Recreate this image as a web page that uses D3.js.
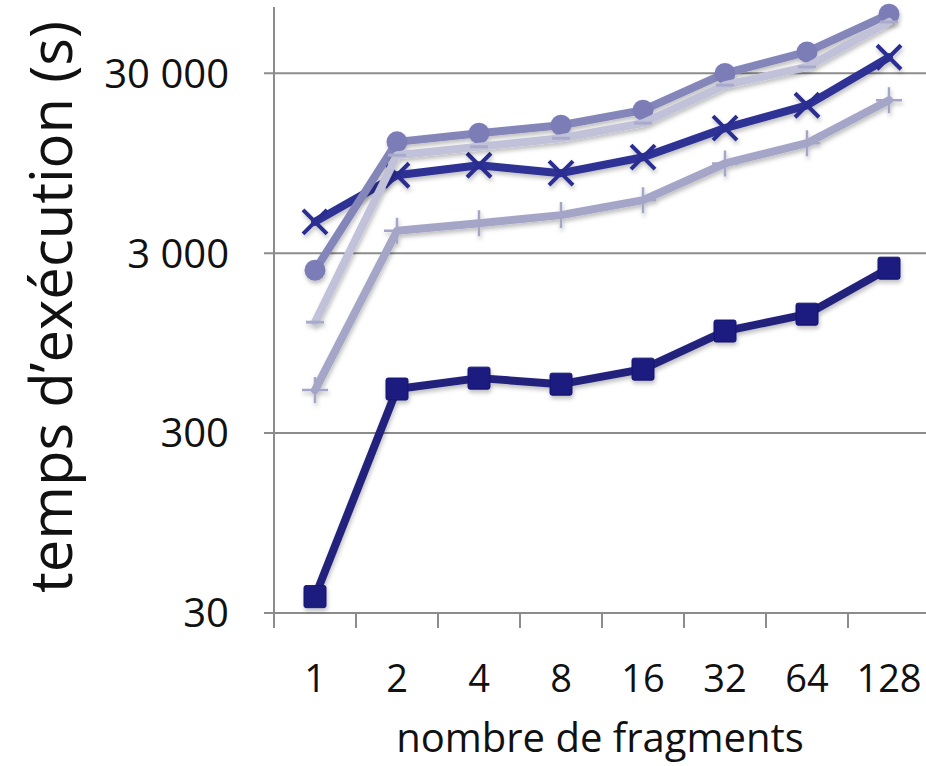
<!DOCTYPE html>
<html>
<head>
<meta charset="utf-8">
<script src="https://cdn.jsdelivr.net/npm/d3@7"></script>
<style>
  body { margin: 0; background: #fff; }
  text { font-family: "Open Sans", sans-serif; fill: #111; }
</style>
</head>
<body>
<div id="chart"></div>
<script>
const canvas = { w: 926, h: 766 };

const fragments = ["1", "2", "4", "8", "16", "32", "64", "128"];
const yTicks = [30, 300, 3000, 30000];

const squareSeries = [37, 527, 606, 561, 680, 1107, 1374, 2475];
const crossSeries = [4480, 8130, 9240, 8350, 10240, 14860, 19900, 36800];
const circleSeries = [2410, 12460, 13920, 15420, 18700, 29900, 39400, 63800];
const dashSeries = [1240, 10500, 11700, 13050, 15840, 25740, 32500, 57800];
const plusSeries = [520, 3990, 4400, 4880, 5910, 9450, 12250, 21240];

const series = [
  { name: "square", values: squareSeries, line: "#23237c", marker: "square", fill: "#1b1b80" },
  { name: "cross", values: crossSeries, line: "#2f3194", marker: "cross", fill: "#2b2d91" },
  { name: "plus", values: plusSeries, line: "#a4a5c7", marker: "plus", fill: "#a4a5c7" },
  { name: "circle", values: circleSeries, line: "#8486b9", marker: "circle", fill: "#7b7db7" },
  { name: "dash", values: dashSeries, line: "#c1c2da", marker: "dash", fill: "#a9aacb" }
];

const plot = { left: 274, right: 930, top: 7, bottom: 613 };

const x = d3.scaleBand().domain(fragments).range([plot.left, plot.right]);
const y = d3.scaleLog().domain([30, 70000]).range([plot.bottom, plot.top]);

const fr = d3.formatLocale({ decimal: ",", thousands: "\u00a0", grouping: [3], currency: ["", ""] });
const fmt = fr.format(",d");

const svg = d3.select("#chart")
  .append("svg")
  .attr("width", canvas.w)
  .attr("height", canvas.h);

const defs = svg.append("defs");
defs.append("filter")
  .attr("id", "shadow")
  .attr("x", "-20%").attr("y", "-20%").attr("width", "140%").attr("height", "140%")
  .append("feDropShadow")
  .attr("dx", 1).attr("dy", 3).attr("stdDeviation", 2)
  .attr("flood-color", "#000").attr("flood-opacity", 0.25);

// gridlines
svg.append("g")
  .selectAll("line")
  .data(yTicks)
  .enter()
  .append("line")
  .attr("x1", plot.left - 10)
  .attr("x2", plot.right)
  .attr("y1", d => y(d))
  .attr("y2", d => y(d))
  .attr("stroke", "#8c8c8c")
  .attr("stroke-width", 2);

// y axis line
svg.append("line")
  .attr("x1", plot.left).attr("x2", plot.left)
  .attr("y1", plot.top).attr("y2", plot.bottom + 15)
  .attr("stroke", "#8c8c8c")
  .attr("stroke-width", 2);

// x ticks between categories
svg.append("g")
  .selectAll("line")
  .data(fragments.slice(1))
  .enter()
  .append("line")
  .attr("x1", d => x(d)).attr("x2", d => x(d))
  .attr("y1", plot.bottom).attr("y2", plot.bottom + 15)
  .attr("stroke", "#8c8c8c")
  .attr("stroke-width", 2);

// y tick labels
svg.append("g")
  .selectAll("text")
  .data(yTicks)
  .enter()
  .append("text")
  .attr("x", 229)
  .attr("y", d => y(d))
  .attr("dy", "0.36em")
  .attr("text-anchor", "end")
  .attr("font-size", 40)
  .text(d => fmt(d));

// x tick labels
svg.append("g")
  .selectAll("text")
  .data(fragments)
  .enter()
  .append("text")
  .attr("x", d => x(d) + x.bandwidth() / 2)
  .attr("y", 692)
  .attr("text-anchor", "middle")
  .attr("font-size", 38)
  .text(d => d);

svg.append("text")
  .attr("x", 600)
  .attr("y", 752)
  .attr("text-anchor", "middle")
  .attr("font-size", 40)
  .text("nombre de fragments");

svg.append("text")
  .attr("transform", "translate(72,307) rotate(-90)")
  .attr("text-anchor", "middle")
  .attr("font-size", 58)
  .text("temps d\u2019exécution (s)");

const line = d3.line()
  .x((d, i) => x(fragments[i]) + x.bandwidth() / 2)
  .y(d => y(d));

const layers = svg.append("g")
  .selectAll("g")
  .data(series)
  .enter()
  .append("g")
  .attr("filter", "url(#shadow)");

layers.append("path")
  .attr("d", d => line(d.values))
  .attr("fill", "none")
  .attr("stroke", d => d.line)
  .attr("stroke-width", 8)
  .attr("stroke-linejoin", "round")
  .attr("stroke-linecap", "round");

layers.each(function (s) {
  const g = d3.select(this);
  const pts = g.selectAll(".pt")
    .data(s.values)
    .enter()
    .append("g")
    .attr("class", "pt")
    .attr("transform", (d, i) => `translate(${x(fragments[i]) + x.bandwidth() / 2},${y(d)})`);

  if (s.marker === "square") {
    pts.append("rect")
      .attr("x", -11).attr("y", -11)
      .attr("width", 22).attr("height", 22)
      .attr("rx", 2)
      .attr("fill", s.fill)
      .attr("stroke", "#161670")
      .attr("stroke-width", 1);
  } else if (s.marker === "circle") {
    pts.append("circle")
      .attr("r", 10.5)
      .attr("fill", s.fill);
  } else if (s.marker === "cross") {
    pts.append("path")
      .attr("d", "M-12,-12L12,12M-12,12L12,-12")
      .attr("stroke", s.fill)
      .attr("stroke-width", 4)
      .attr("fill", "none");
  } else if (s.marker === "plus") {
    pts.append("path")
      .attr("d", "M-13,0L13,0M0,-13L0,13")
      .attr("stroke", s.fill)
      .attr("stroke-width", 2.5)
      .attr("fill", "none");
  } else if (s.marker === "dash") {
    pts.append("path")
      .attr("d", "M-9,0L9,0")
      .attr("stroke", s.fill)
      .attr("stroke-width", 3)
      .attr("fill", "none");
  }
});
</script>
</body>
</html>
